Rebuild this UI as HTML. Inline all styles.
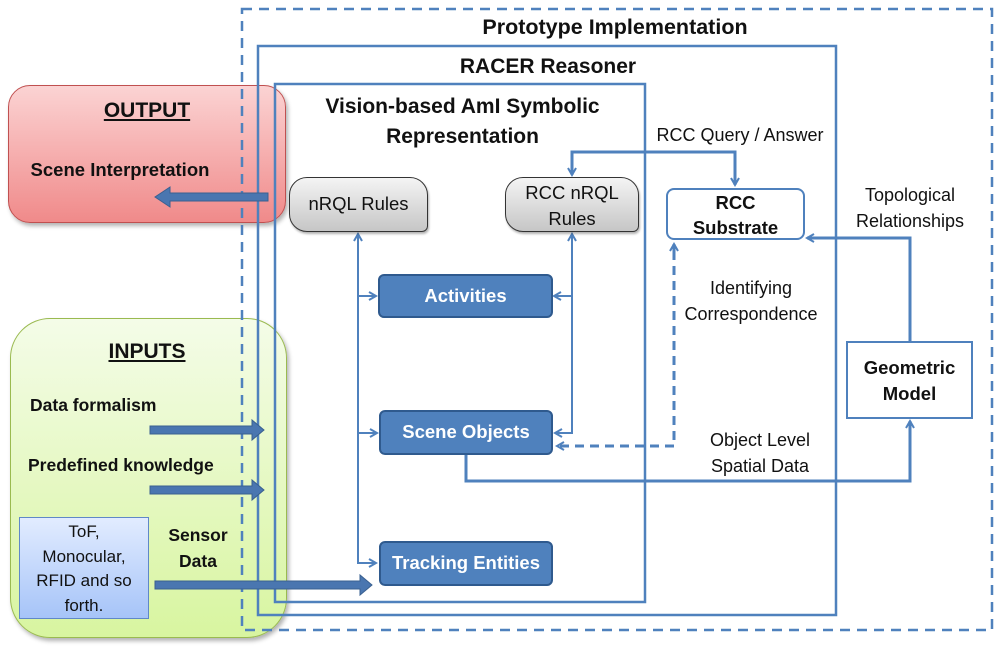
<!DOCTYPE html>
<html><head><meta charset="utf-8"><style>
body{margin:0;width:1000px;height:649px;background:#fff;position:relative;overflow:hidden;font-family:"Liberation Sans",sans-serif}
.a{position:absolute;box-sizing:border-box}
.t{position:absolute;text-align:center;color:#111;white-space:nowrap}
.b{font-weight:bold}
</style></head><body>
<div class="a" style="left:8px;top:85px;width:278px;height:138px;border:1.5px solid #c05050;border-radius:22px;background:linear-gradient(#fbd3d3,#f08a8a);box-shadow:2px 3px 4px rgba(0,0,0,.3)"></div>
<div class="a" style="left:10px;top:318px;width:277px;height:320px;border:1.5px solid #9aba50;border-radius:40px;background:linear-gradient(#f4fce8,#d8f5a0);box-shadow:2px 3px 4px rgba(0,0,0,.3)"></div>
<div class="a" style="left:19px;top:517px;width:130px;height:102px;border:1px solid #6088c8;background:linear-gradient(#e2ecff,#a6c4f8)"></div>
<svg class="a" style="left:0;top:0" width="1000" height="649">
<defs>
<marker id="o" markerWidth="10" markerHeight="10" refX="8" refY="5" orient="auto" markerUnits="userSpaceOnUse"><path d="M1,1 L8,5 L1,9" fill="none" stroke="#4f81bd" stroke-width="2"/></marker>
</defs>
<g fill="none" stroke="#4f81bd" stroke-width="2.5">
<rect x="242" y="9" width="750" height="621" stroke-dasharray="10,7"/>
<rect x="258" y="46" width="578" height="569"/>
<rect x="275" y="84" width="370" height="518"/>
</g>
<g fill="none" stroke="#4f81bd" stroke-width="2">
<path d="M358 242 V563 H376" marker-end="url(#o)"/>
<path d="M358 242 V234" marker-end="url(#o)"/>
<path d="M358 296 H376" marker-end="url(#o)"/>
<path d="M358 433 H377" marker-end="url(#o)"/>
<path d="M572 242 V433 H555" marker-end="url(#o)"/>
<path d="M572 242 V234" marker-end="url(#o)"/>
<path d="M572 296 H554" marker-end="url(#o)"/>
</g>
<g fill="none" stroke="#4f81bd" stroke-width="3">
<path d="M572 166 V152 H735 V185" />
<path d="M572 152 V175" marker-end="url(#o)"/>
<path d="M735 152 V185" marker-end="url(#o)"/>
<path d="M674 440 V245" stroke-dasharray="9,6"/>
<path d="M674 255 V244" marker-end="url(#o)"/>
<path d="M674 446 H557" stroke-dasharray="9,6" marker-end="url(#o)"/>
<path d="M910 341 V238 H807" marker-end="url(#o)"/>
<path d="M466 455 V481 H910 V421" marker-end="url(#o)"/>
</g>
<g fill="#4a76b0" stroke="#3a6090" stroke-width="1">
<path d="M268 193 H170 V187 L155 197 L170 207 V201 H268 Z"/>
<path d="M150 426 H252 V420 L264 430 L252 440 V434 H150 Z"/>
<path d="M150 486 H252 V480 L264 490 L252 500 V494 H150 Z"/>
<path d="M155 581 H360 V575 L372 585 L360 595 V589 H155 Z"/>
</g>
</svg>
<div class="a" style="left:289px;top:177px;width:139px;height:55px;border:1.5px solid #333;border-radius:18px 18px 6px 18px;background:linear-gradient(#f4f4f4,#c6c6c6);box-shadow:1px 2px 2px rgba(0,0,0,.3)"></div>
<div class="a" style="left:505px;top:177px;width:134px;height:55px;border:1.5px solid #333;border-radius:18px 18px 6px 18px;background:linear-gradient(#f4f4f4,#c6c6c6);box-shadow:1px 2px 2px rgba(0,0,0,.3)"></div>
<div class="a" style="left:378px;top:274px;width:175px;height:44px;border:2px solid #2f5a8e;border-radius:6px;background:#4f81bd"></div>
<div class="a" style="left:379px;top:410px;width:174px;height:45px;border:2px solid #2f5a8e;border-radius:6px;background:#4f81bd"></div>
<div class="a" style="left:379px;top:541px;width:174px;height:45px;border:2px solid #2f5a8e;border-radius:6px;background:#4f81bd"></div>
<div class="a" style="left:666px;top:188px;width:139px;height:52px;border:2.5px solid #4f81bd;border-radius:8px;background:#fff"></div>
<div class="a" style="left:846px;top:341px;width:127px;height:78px;border:2.5px solid #4f81bd;background:#fff"></div>

<div class="t b" style="left:400px;top:15px;width:430px;font-size:21.5px">Prototype Implementation</div>
<div class="t b" style="left:398px;top:55px;width:300px;font-size:21px">RACER Reasoner</div>
<div class="t b" style="left:285px;top:92px;width:355px;font-size:21px;line-height:30px">Vision-based AmI Symbolic<br>Representation</div>
<div class="t b" style="left:57px;top:99px;width:180px;font-size:21px;text-decoration:underline">OUTPUT</div>
<div class="t b" style="left:20px;top:159px;width:200px;font-size:18.5px">Scene Interpretation</div>
<div class="t b" style="left:57px;top:340px;width:180px;font-size:21px;text-decoration:underline">INPUTS</div>
<div class="t b" style="left:30px;top:395px;width:140px;font-size:17.5px;text-align:left">Data formalism</div>
<div class="t b" style="left:28px;top:455px;width:220px;font-size:17.5px;text-align:left">Predefined knowledge</div>
<div class="t b" style="left:158px;top:522px;width:80px;font-size:17.5px;line-height:26px">Sensor<br>Data</div>
<div class="t" style="left:19px;top:520px;width:130px;font-size:17px;line-height:24.5px">ToF,<br>Monocular,<br>RFID and so<br>forth.</div>
<div class="t" style="left:289px;top:193px;width:139px;font-size:18.5px">nRQL Rules</div>
<div class="t" style="left:505px;top:180px;width:134px;font-size:18.5px;line-height:26px">RCC nRQL<br>Rules</div>
<div class="t b" style="left:378px;top:285px;width:175px;font-size:18.5px;color:#fff">Activities</div>
<div class="t b" style="left:379px;top:421px;width:174px;font-size:18.5px;color:#fff">Scene Objects</div>
<div class="t b" style="left:379px;top:552px;width:174px;font-size:18.5px;color:#fff">Tracking Entities</div>
<div class="t b" style="left:666px;top:190px;width:139px;font-size:18.5px;line-height:25px">RCC<br>Substrate</div>
<div class="t b" style="left:846px;top:355px;width:127px;font-size:18.5px;line-height:26px">Geometric<br>Model</div>
<div class="t" style="left:640px;top:125px;width:200px;font-size:18px">RCC Query / Answer</div>
<div class="t" style="left:840px;top:182px;width:140px;font-size:18px;line-height:26px">Topological<br>Relationships</div>
<div class="t" style="left:676px;top:275px;width:150px;font-size:18px;line-height:26px">Identifying<br>Correspondence</div>
<div class="t" style="left:690px;top:427px;width:140px;font-size:18px;line-height:26px">Object Level<br>Spatial Data</div>
</body></html>
